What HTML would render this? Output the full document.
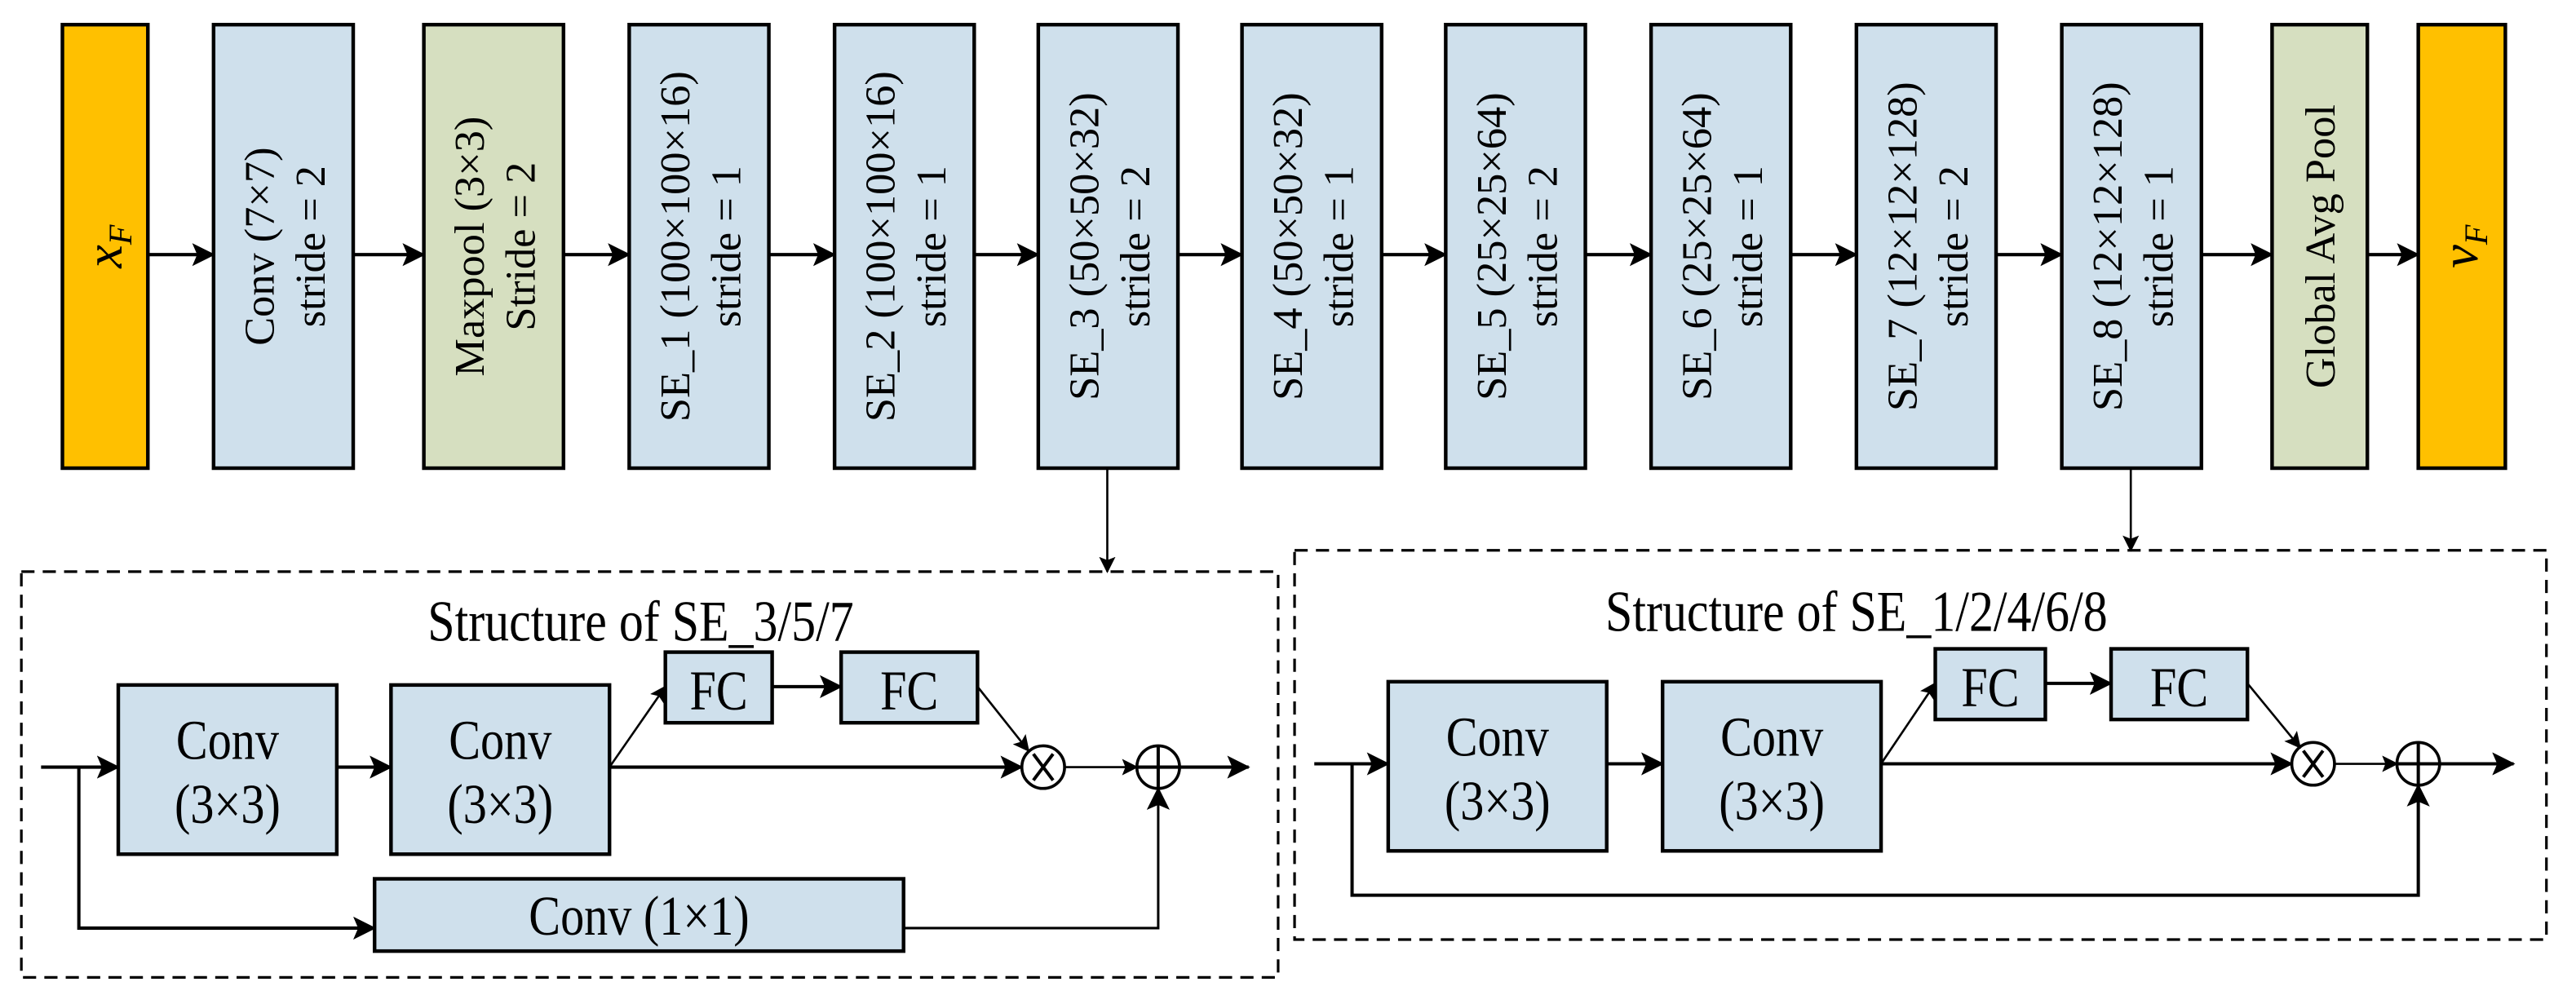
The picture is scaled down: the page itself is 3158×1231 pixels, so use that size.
<!DOCTYPE html>
<html><head><meta charset="utf-8"><style>html,body{margin:0;padding:0;background:#fff}svg{display:block}</style></head>
<body>
<svg width="3158" height="1231" viewBox="0 0 1568 611.2" xmlns="http://www.w3.org/2000/svg" font-family="'Liberation Serif', serif">
<defs>
<marker id="a" markerWidth="10" markerHeight="10" refX="9" refY="5" orient="auto" markerUnits="userSpaceOnUse"><path d="M0,0 L10,5 L0,10 L2,5 Z" fill="#000"/></marker>
<marker id="b" markerWidth="14" markerHeight="14" refX="13" refY="7" orient="auto" markerUnits="userSpaceOnUse"><path d="M0,0 L14,7 L0,14 L3,7 Z" fill="#000"/></marker>
</defs>
<g stroke="#000" stroke-width="2.2">
<rect x="38" y="15" width="52" height="270" fill="#FFC000"/>
<rect x="130" y="15" width="85" height="270" fill="#CFE0EC"/>
<rect x="258" y="15" width="85" height="270" fill="#D6DFC0"/>
<rect x="383" y="15" width="85" height="270" fill="#CFE0EC"/>
<rect x="508" y="15" width="85" height="270" fill="#CFE0EC"/>
<rect x="632" y="15" width="85" height="270" fill="#CFE0EC"/>
<rect x="756" y="15" width="85" height="270" fill="#CFE0EC"/>
<rect x="880" y="15" width="85" height="270" fill="#CFE0EC"/>
<rect x="1005" y="15" width="85" height="270" fill="#CFE0EC"/>
<rect x="1130" y="15" width="85" height="270" fill="#CFE0EC"/>
<rect x="1255" y="15" width="85" height="270" fill="#CFE0EC"/>
<rect x="1383" y="15" width="58" height="270" fill="#D6DFC0"/>
<rect x="1472" y="15" width="53" height="270" fill="#FFC000"/>
</g>
<g stroke="#000" stroke-width="2" marker-end="url(#b)">
<line x1="90" y1="155" x2="130" y2="155"/>
<line x1="215" y1="155" x2="258" y2="155"/>
<line x1="343" y1="155" x2="383" y2="155"/>
<line x1="468" y1="155" x2="508" y2="155"/>
<line x1="593" y1="155" x2="632" y2="155"/>
<line x1="717" y1="155" x2="756" y2="155"/>
<line x1="841" y1="155" x2="880" y2="155"/>
<line x1="965" y1="155" x2="1005" y2="155"/>
<line x1="1090" y1="155" x2="1130" y2="155"/>
<line x1="1215" y1="155" x2="1255" y2="155"/>
<line x1="1340" y1="155" x2="1383" y2="155"/>
<line x1="1441" y1="155" x2="1472" y2="155"/>
</g>
<g stroke="#000" stroke-width="1.3" marker-end="url(#a)">
<line x1="674" y1="285" x2="674" y2="348"/>
<line x1="1297" y1="285" x2="1297" y2="335"/>
</g>
<g font-size="26" text-anchor="middle" fill="#000">
<text transform="translate(66,150) rotate(-90)" y="8" font-style="italic" font-size="32">x<tspan font-size="20" dy="6">F</tspan></text>
<text transform="translate(172.5,150) rotate(-90)"><tspan x="0" y="-6">Conv (7×7)</tspan><tspan x="0" y="25">stride = 2</tspan></text>
<text transform="translate(300.5,150) rotate(-90)"><tspan x="0" y="-6">Maxpool (3×3)</tspan><tspan x="0" y="25">Stride = 2</tspan></text>
<text transform="translate(425.5,150) rotate(-90)"><tspan x="0" y="-6">SE_1 (100×100×16)</tspan><tspan x="0" y="25">stride = 1</tspan></text>
<text transform="translate(550.5,150) rotate(-90)"><tspan x="0" y="-6">SE_2 (100×100×16)</tspan><tspan x="0" y="25">stride = 1</tspan></text>
<text transform="translate(674.5,150) rotate(-90)"><tspan x="0" y="-6">SE_3 (50×50×32)</tspan><tspan x="0" y="25">stride = 2</tspan></text>
<text transform="translate(798.5,150) rotate(-90)"><tspan x="0" y="-6">SE_4 (50×50×32)</tspan><tspan x="0" y="25">stride = 1</tspan></text>
<text transform="translate(922.5,150) rotate(-90)"><tspan x="0" y="-6">SE_5 (25×25×64)</tspan><tspan x="0" y="25">stride = 2</tspan></text>
<text transform="translate(1047.5,150) rotate(-90)"><tspan x="0" y="-6">SE_6 (25×25×64)</tspan><tspan x="0" y="25">stride = 1</tspan></text>
<text transform="translate(1172.5,150) rotate(-90)"><tspan x="0" y="-6">SE_7 (12×12×128)</tspan><tspan x="0" y="25">stride = 2</tspan></text>
<text transform="translate(1297.5,150) rotate(-90)"><tspan x="0" y="-6">SE_8 (12×12×128)</tspan><tspan x="0" y="25">stride = 1</tspan></text>
<text transform="translate(1412,150) rotate(-90)" y="9">Global Avg Pool</text>
<text transform="translate(1500,150) rotate(-90)" y="8" font-style="italic" font-size="32">v<tspan font-size="20" dy="6">F</tspan></text>
</g>
<rect x="13" y="348" width="765" height="247" fill="none" stroke="#000" stroke-width="1.6" stroke-dasharray="8,5"/>
<rect x="788" y="335" width="762" height="237" fill="none" stroke="#000" stroke-width="1.6" stroke-dasharray="8,5"/>
<g stroke="#000" stroke-width="2.2" fill="#CFE0EC">
<rect x="72" y="417" width="133" height="103"/>
<rect x="238" y="417" width="133" height="103"/>
<rect x="405" y="397" width="65" height="43"/>
<rect x="512" y="397" width="83" height="43"/>
<rect x="228" y="535" width="322" height="44"/>
<rect x="845" y="415" width="133" height="103"/>
<rect x="1012" y="415" width="133" height="103"/>
<rect x="1178" y="395" width="67" height="43"/>
<rect x="1285" y="395" width="83" height="43"/>
</g>
<g fill="#fff" stroke="#000" stroke-width="1.8">
<circle cx="635" cy="467" r="13"/><circle cx="705" cy="467" r="13"/>
<circle cx="1408" cy="465" r="13"/><circle cx="1472" cy="465" r="13"/>
</g>
<g stroke="#000" stroke-width="2">
<line x1="629" y1="459" x2="641" y2="475"/><line x1="641" y1="459" x2="629" y2="475"/>
<line x1="692" y1="467" x2="718" y2="467"/><line x1="705" y1="454" x2="705" y2="480"/>
<line x1="1402" y1="457" x2="1414" y2="473"/><line x1="1414" y1="457" x2="1402" y2="473"/>
<line x1="1459" y1="465" x2="1485" y2="465"/><line x1="1472" y1="452" x2="1472" y2="478"/>
</g>
<g stroke="#000" stroke-width="2" fill="none">
<line x1="25" y1="467" x2="72" y2="467" marker-end="url(#b)"/>
<line x1="205" y1="467" x2="238" y2="467" marker-end="url(#b)"/>
<line x1="371" y1="467" x2="622" y2="467" marker-end="url(#b)"/>
<line x1="470" y1="418" x2="512" y2="418" marker-end="url(#b)"/>
<line x1="718" y1="467" x2="760" y2="467" marker-end="url(#b)"/>
<polyline points="48,467 48,565 228,565" marker-end="url(#b)"/>
<polyline points="550,565 705,565 705,480" marker-end="url(#b)" stroke-width="1.5"/>
<line x1="800" y1="465" x2="845" y2="465" marker-end="url(#b)"/>
<line x1="978" y1="465" x2="1012" y2="465" marker-end="url(#b)"/>
<line x1="1145" y1="465" x2="1395" y2="465" marker-end="url(#b)"/>
<line x1="1245" y1="416" x2="1285" y2="416" marker-end="url(#b)"/>
<line x1="1485" y1="465" x2="1530" y2="465" marker-end="url(#b)"/>
<polyline points="823,465 823,545 1472,545 1472,478" marker-end="url(#b)"/>
</g>
<g stroke="#000" stroke-width="1.3" fill="none">
<line x1="371" y1="467" x2="405" y2="418" marker-end="url(#a)"/>
<line x1="595" y1="418" x2="626" y2="457" marker-end="url(#a)"/>
<line x1="648" y1="467" x2="692" y2="467" marker-end="url(#a)"/>
<line x1="1145" y1="465" x2="1178" y2="416" marker-end="url(#a)"/>
<line x1="1368" y1="416" x2="1400" y2="455" marker-end="url(#a)"/>
<line x1="1421" y1="465" x2="1459" y2="465" marker-end="url(#a)"/>
</g>
<g font-size="34" text-anchor="middle" fill="#000">
<text transform="translate(390,390) scale(0.85,1)" font-size="35">Structure of SE_3/5/7</text>
<text transform="translate(1130,384) scale(0.85,1)" font-size="35">Structure of SE_1/2/4/6/8</text>
<text transform="translate(138.5,462) scale(0.85,1)">Conv</text>
<text transform="translate(138.5,501) scale(0.85,1)">(3×3)</text>
<text transform="translate(304.5,462) scale(0.85,1)">Conv</text>
<text transform="translate(304.5,501) scale(0.85,1)">(3×3)</text>
<text transform="translate(437.5,432) scale(0.85,1)">FC</text>
<text transform="translate(553.5,432) scale(0.85,1)">FC</text>
<text transform="translate(389,569) scale(0.85,1)">Conv (1×1)</text>
<text transform="translate(911.5,460) scale(0.85,1)">Conv</text>
<text transform="translate(911.5,499) scale(0.85,1)">(3×3)</text>
<text transform="translate(1078.5,460) scale(0.85,1)">Conv</text>
<text transform="translate(1078.5,499) scale(0.85,1)">(3×3)</text>
<text transform="translate(1211.5,430) scale(0.85,1)">FC</text>
<text transform="translate(1326.5,430) scale(0.85,1)">FC</text>
</g>
</svg>
</body></html>
